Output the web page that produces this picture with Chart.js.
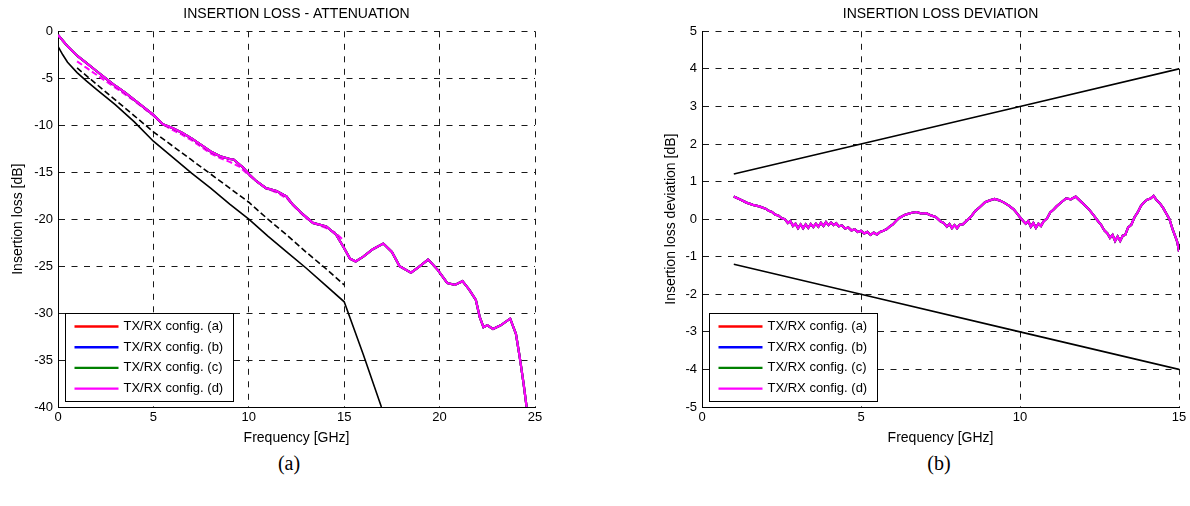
<!DOCTYPE html>
<html>
<head>
<meta charset="utf-8">
<script src="https://cdn.jsdelivr.net/npm/chart.js@4.4.1/dist/chart.umd.min.js"></script>
<style>
  html, body { margin:0; padding:0; background:#fff; width:1190px; height:506px; overflow:hidden; }
  .wrap { position:absolute; top:0; width:595px; height:450px; }
  .cap { position:absolute; font-family:"Liberation Serif","Times New Roman",serif; font-size:20px; color:#000; transform:translate(-50%,-50%); white-space:nowrap; }
</style>
</head>
<body>
<div class="wrap" style="left:0"><canvas id="c1" width="595" height="450"></canvas></div>
<div class="wrap" style="left:595px"><canvas id="c2" width="595" height="450"></canvas></div>
<div class="cap" style="left:289px;top:463px">(a)</div>
<div class="cap" style="left:939px;top:463px">(b)</div>
<script>
// ---------- legend / series identity ----------
const configLabels = ['TX/RX config. (a)', 'TX/RX config. (b)', 'TX/RX config. (c)', 'TX/RX config. (d)'];
const configColors = ['#ff0000', '#0000ff', '#008000', '#ff00ff'];

// ---------- (a) Insertion loss - attenuation ----------
const ilTitle = 'INSERTION LOSS - ATTENUATION';
const ilYTitle = 'Insertion loss [dB]';
const freqTitle = 'Frequency [GHz]';
const ilXTicks = [0, 5, 10, 15, 20, 25];
const ilYTicks = [-40, -35, -30, -25, -20, -15, -10, -5, 0];

// measured insertion loss (all four configurations overlap)
const ilFreq = [0, 0.5, 1, 1.5, 2, 2.5, 3, 3.5, 4, 4.5, 5, 5.5, 6, 6.5, 7, 7.5, 8, 8.5, 9, 9.2, 9.7, 10,
  10.4, 10.9, 11.45, 11.97, 12.3, 12.84, 13.36, 14.06, 14.58, 15, 15.3, 15.6, 16.0, 16.5, 17.05, 17.5,
  17.9, 18.5, 18.9, 19.4, 19.9, 20.4, 20.8, 21.2, 21.55, 21.9, 22.1, 22.3, 22.5, 22.8, 23.2, 23.7, 24.0,
  24.2, 24.4, 24.56];
const ilMeasured = [-0.4, -1.6, -2.6, -3.4, -4.2, -5.0, -5.8, -6.5, -7.3, -8.1, -8.9, -9.9, -10.3, -10.8,
  -11.4, -12.1, -12.8, -13.3, -13.6, -13.65, -14.5, -15.2, -15.96, -16.7, -17.0, -17.56, -18.45, -19.5,
  -20.4, -20.77, -21.65, -23.1, -24.2, -24.5, -24.0, -23.2, -22.6, -23.5, -25.0, -25.7, -25.1, -24.3,
  -25.4, -26.8, -27.0, -26.6, -27.5, -28.6, -30.4, -31.5, -31.3, -31.7, -31.3, -30.6, -32.2, -34.7,
  -37.5, -40.0];

// fitted attenuation of the measured channel (dashed magenta)
const ilFitFreq = [1, 1.5, 2, 2.5, 3, 3.5, 4, 4.5, 5, 5.5, 6, 6.5, 7, 7.5, 8, 8.5, 9, 9.5, 10, 10.5, 11,
  11.5, 12, 12.5, 13, 13.5, 14, 14.5, 15];
const ilFit = [-3.2, -3.9, -4.6, -5.3, -6.0, -6.7, -7.4, -8.2, -9.0, -9.9, -10.5, -11.0, -11.6, -12.3,
  -13.0, -13.5, -13.9, -14.4, -15.3, -16.1, -16.8, -17.2, -17.8, -18.9, -19.9, -20.5, -20.9, -21.4, -22.3];

// insertion loss limit (solid black)
const limitFreq = [0, 0.25, 0.5, 1, 1.5, 2, 3, 4, 5, 6, 7, 8, 9, 10, 11, 12, 13, 14, 15, 16, 16.95];
const ilLimit = [-1.6, -2.5, -3.3, -4.4, -5.3, -6.15, -7.8, -9.65, -11.7, -13.4, -15.1, -16.7, -18.4,
  -20.0, -21.8, -23.5, -25.2, -27.0, -28.8, -34.4, -40.0];

// fitted attenuation limit (dashed black)
const limitFitFreq = [1, 2, 3, 4, 5, 6, 7, 8, 9, 10, 11, 12, 13, 14, 15];
const ilLimitFit = [-3.9, -5.6, -7.3, -9.0, -10.7, -12.2, -13.7, -15.2, -16.7, -18.2, -20.0, -21.7,
  -23.5, -25.2, -27.0];

// ---------- (b) Insertion loss deviation ----------
const ildTitle = 'INSERTION LOSS DEVIATION';
const ildYTitle = 'Insertion loss deviation [dB]';
const ildXTicks = [0, 5, 10, 15];
const ildYTicks = [-5, -4, -3, -2, -1, 0, 1, 2, 3, 4, 5];

const ildFreq = [1.0, 1.2, 1.4, 1.6, 1.8, 2.0, 2.1, 2.2, 2.3, 2.4, 2.5, 2.6, 2.7, 2.78, 2.86, 2.94, 3.02,
  3.1, 3.18, 3.26, 3.34, 3.42, 3.5, 3.58, 3.66, 3.74, 3.82, 3.9, 3.98, 4.06, 4.14, 4.22, 4.3, 4.4, 4.5,
  4.6, 4.7, 4.8, 4.9, 5.0, 5.1, 5.2, 5.3, 5.4, 5.5, 5.6, 5.7, 5.8, 5.9, 6.0, 6.1, 6.2, 6.4, 6.6, 6.75,
  6.9, 7.05, 7.2, 7.35, 7.5, 7.6, 7.7, 7.78, 7.86, 7.94, 8.02, 8.1, 8.2, 8.3, 8.45, 8.6, 8.75, 8.9, 9.05,
  9.2, 9.35, 9.5, 9.65, 9.8, 9.9, 10.0, 10.1, 10.18, 10.26, 10.34, 10.42, 10.5, 10.58, 10.66, 10.74,
  10.85, 10.95, 11.05, 11.15, 11.3, 11.45, 11.6, 11.75, 11.85, 12.0, 12.15, 12.3, 12.45, 12.55, 12.65,
  12.75, 12.83, 12.91, 12.99, 13.07, 13.15, 13.23, 13.31, 13.4, 13.5, 13.6, 13.7, 13.8, 13.9, 14.0,
  14.1, 14.2, 14.3, 14.4, 14.5, 14.6, 14.7, 14.8, 14.9, 14.95, 15.0];
const ildMeasured = [0.60, 0.52, 0.44, 0.38, 0.34, 0.28, 0.22, 0.19, 0.12, 0.10, 0.03, 0.00, -0.10,
  -0.05, -0.18, -0.12, -0.24, -0.14, -0.24, -0.14, -0.23, -0.13, -0.21, -0.12, -0.20, -0.10, -0.18,
  -0.08, -0.16, -0.09, -0.16, -0.11, -0.19, -0.17, -0.25, -0.22, -0.30, -0.27, -0.34, -0.31, -0.38,
  -0.34, -0.42, -0.36, -0.41, -0.34, -0.31, -0.27, -0.20, -0.14, -0.05, 0.03, 0.12, 0.17, 0.19, 0.15,
  0.16, 0.10, 0.06, -0.06, -0.10, -0.20, -0.13, -0.24, -0.16, -0.24, -0.15, -0.14, -0.06, 0.06, 0.22,
  0.33, 0.45, 0.50, 0.54, 0.50, 0.44, 0.36, 0.26, 0.16, 0.05, -0.05, -0.12, -0.05, -0.20, -0.10, -0.23,
  -0.12, -0.18, -0.06, 0.02, 0.18, 0.25, 0.34, 0.45, 0.55, 0.53, 0.60, 0.52, 0.40, 0.28, 0.12, -0.05,
  -0.15, -0.30, -0.38, -0.50, -0.42, -0.58, -0.46, -0.58, -0.44, -0.42, -0.22, -0.15, 0.05, 0.18, 0.35,
  0.45, 0.52, 0.55, 0.62, 0.50, 0.42, 0.30, 0.15, 0.00, -0.27, -0.50, -0.62, -0.86];

const ildLimitFreq = [1, 5, 10, 15];
const ildUpper = [1.2, 2.0, 3.0, 4.0];
const ildLower = [-1.2, -2.0, -3.0, -4.0];

// ---------- helpers ----------
const FONT = '"Liberation Sans", Arial, Helvetica, sans-serif';
const pts = (xs, ys) => xs.map((x, i) => ({ x: x, y: ys[i] }));

const insetLegend = {
  id: 'insetLegend',
  afterDraw(chart) {
    const { ctx, chartArea } = chart;
    const items = chart.data.datasets.filter(d => d.inLegend).sort((a, b) => a.legendIndex - b.legendIndex);
    const w = 168, h = 88;
    const x = Math.round(chartArea.left + 7) + 0.5;
    const y = Math.round(chartArea.bottom - 6 - h) + 0.5;
    ctx.save();
    ctx.fillStyle = '#fff';
    ctx.fillRect(x, y, w, h);
    ctx.strokeStyle = '#000';
    ctx.lineWidth = 1;
    ctx.setLineDash([]);
    ctx.strokeRect(x, y, w, h);
    ctx.font = '13px ' + FONT;
    ctx.textBaseline = 'middle';
    ctx.textAlign = 'left';
    items.forEach((d, i) => {
      const yy = y + 13 + i * 20.7;
      ctx.strokeStyle = d.borderColor;
      ctx.lineWidth = 2.4;
      ctx.beginPath();
      ctx.moveTo(x + 9, yy);
      ctx.lineTo(x + 53, yy);
      ctx.stroke();
      ctx.fillStyle = '#000';
      ctx.fillText(d.label, x + 58, yy);
    });
    ctx.restore();
  }
};

function makeOptions(cfg) {
  return {
    responsive: false,
    animation: false,
    devicePixelRatio: 1,
    layout: { padding: { left: 0, right: cfg.padRight, top: 0, bottom: 0 } },
    elements: { point: { radius: 0 }, line: { tension: 0 } },
    plugins: {
      legend: { display: false },
      tooltip: { enabled: false },
      title: {
        display: true, text: cfg.title, fullSize: false, color: '#000',
        font: { family: FONT, size: 14, weight: 'normal', lineHeight: 1.2 },
        padding: { top: 5.6, bottom: 8.9 }
      }
    },
    scales: {
      x: {
        type: 'linear', min: cfg.xMin, max: cfg.xMax,
        afterBuildTicks(s) { s.ticks = cfg.xTicks.map(v => ({ value: v })); },
        afterFit(s) { s.height = 43; },
        grid: { color: '#1a1a1a', lineWidth: 1, drawTicks: false },
        border: { display: true, color: '#000', width: 1, dash: [6, 6.5] },
        ticks: { color: '#000', font: { family: FONT, size: 13 }, padding: 3, maxRotation: 0,
                 callback: v => String(v) },
        title: { display: true, text: freqTitle, color: '#000',
                 font: { family: FONT, size: 14, lineHeight: 1.2 }, padding: { top: 0, bottom: 3.6 } }
      },
      y: {
        type: 'linear', min: cfg.yMin, max: cfg.yMax,
        afterBuildTicks(s) { s.ticks = cfg.yTicks.map(v => ({ value: v })); },
        afterFit(s) { s.width = cfg.yAxisWidth; },
        grid: { color: '#1a1a1a', lineWidth: 1, drawTicks: false },
        border: { display: true, color: '#000', width: 1, dash: [6, 6.5] },
        ticks: { color: '#000', font: { family: FONT, size: 13 }, padding: 5,
                 callback: v => String(v) },
        title: { display: true, text: cfg.yTitle, color: '#000',
                 font: { family: FONT, size: 14, lineHeight: 1.2 }, padding: { top: cfg.yTitlePad, bottom: 0 } }
      }
    }
  };
}

function configSets(data, width) {
  return configLabels.map((lab, i) => ({
    label: lab, data: data, borderColor: configColors[i], backgroundColor: configColors[i],
    borderWidth: width, fill: false, order: 4 - i, inLegend: true, legendIndex: i
  }));
}

// ---------- chart (a) ----------
const ilMeasuredPts = pts(ilFreq, ilMeasured);
new Chart(document.getElementById('c1'), {
  type: 'line',
  data: {
    datasets: [
      ...configSets(ilMeasuredPts, 2.2),
      { label: 'fit', data: pts(ilFitFreq, ilFit), borderColor: '#ff00ff', borderWidth: 2,
        borderDash: [6, 3], fill: false, order: 5 },
      { label: 'limit', data: pts(limitFreq, ilLimit), borderColor: '#000', borderWidth: 1.6,
        fill: false, order: 6 },
      { label: 'limit fit', data: pts(limitFitFreq, ilLimitFit), borderColor: '#000', borderWidth: 1.6,
        borderDash: [6, 3], fill: false, order: 7 }
    ]
  },
  options: makeOptions({ title: ilTitle, yTitle: ilYTitle, xMin: 0, xMax: 25, yMin: -40, yMax: 0,
    xTicks: ilXTicks, yTicks: ilYTicks, yAxisWidth: 58, yTitlePad: 9.6, padRight: 60 }),
  plugins: [insetLegend]
});

// ---------- chart (b) ----------
const ildMeasuredPts = pts(ildFreq, ildMeasured);
new Chart(document.getElementById('c2'), {
  type: 'line',
  data: {
    datasets: [
      ...configSets(ildMeasuredPts, 2.2),
      { label: 'upper limit', data: pts(ildLimitFreq, ildUpper), borderColor: '#000', borderWidth: 1.6,
        fill: false, order: 6 },
      { label: 'lower limit', data: pts(ildLimitFreq, ildLower), borderColor: '#000', borderWidth: 1.6,
        fill: false, order: 7 }
    ]
  },
  options: makeOptions({ title: ildTitle, yTitle: ildYTitle, xMin: 0, xMax: 15, yMin: -5, yMax: 5,
    xTicks: ildXTicks, yTicks: ildYTicks, yAxisWidth: 107, yTitlePad: 67.6, padRight: 11 }),
  plugins: [insetLegend]
});
</script>
</body>
</html>
